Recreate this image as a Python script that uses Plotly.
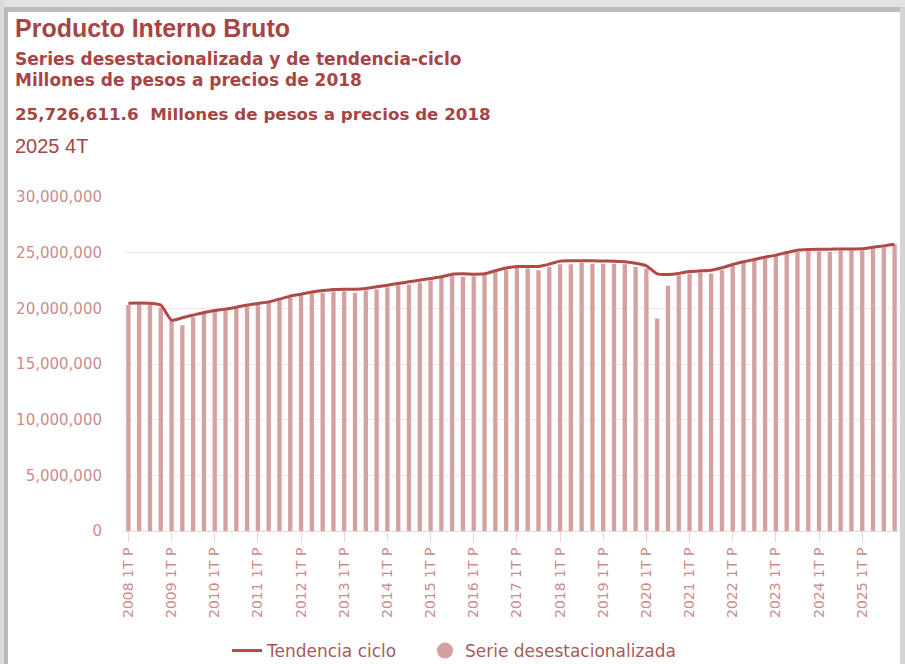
import plotly.graph_objects as go

# ---------------- data ----------------
years = list(range(2008, 2026))
quarters = [f"{y} {q}T P" for y in years for q in range(1, 5)]
tick_labels = [f"{y} 1T P" for y in years]

serie_desestacionalizada = [
    20290000, 20380000, 20350000, 20050000, 18940000, 18490000, 19210000, 19540000,
    19750000, 19930000, 20050000, 20230000, 20380000, 20470000, 20710000, 21000000,
    21180000, 21330000, 21390000, 21540000, 21540000, 21390000, 21600000, 21720000,
    21900000, 22080000, 22140000, 22320000, 22500000, 22740000, 22980000, 22830000,
    22890000, 22980000, 23280000, 23490000, 23640000, 23580000, 23430000, 23730000,
    23970000, 23970000, 24090000, 24000000, 24000000, 24000000, 23970000, 23730000,
    23580000, 19090000, 22020000, 22980000, 23130000, 23220000, 23130000, 23430000,
    23820000, 24090000, 24330000, 24570000, 24710000, 24890000, 25070000, 25130000,
    25130000, 25070000, 25200000, 25200000, 25200000, 25380000, 25490000, 25726611.6,
]

tendencia_ciclo = [
    20460000, 20480000, 20450000, 20300000, 18940000, 19150000, 19390000, 19630000,
    19810000, 19930000, 20100000, 20290000, 20440000, 20580000, 20830000, 21100000,
    21270000, 21460000, 21600000, 21700000, 21720000, 21720000, 21780000, 21930000,
    22080000, 22230000, 22380000, 22530000, 22680000, 22830000, 23070000, 23100000,
    23070000, 23100000, 23370000, 23620000, 23760000, 23760000, 23760000, 23970000,
    24240000, 24270000, 24270000, 24270000, 24250000, 24240000, 24180000, 24050000,
    23820000, 23100000, 23040000, 23130000, 23300000, 23370000, 23430000, 23640000,
    23940000, 24180000, 24390000, 24600000, 24780000, 25010000, 25220000, 25280000,
    25300000, 25310000, 25330000, 25340000, 25350000, 25490000, 25610000, 25760000,
]

y_ticks = [0, 5000000, 10000000, 15000000, 20000000, 25000000, 30000000]
y_tick_text = ["0", "5,000,000", "10,000,000", "15,000,000", "20,000,000", "25,000,000", "30,000,000"]

title = "Producto Interno Bruto"
subtitle1 = "Series desestacionalizada y de tendencia-ciclo"
subtitle2 = "Millones de pesos a precios de 2018"
value_line = "25,726,611.6  Millones de pesos a precios de 2018"
period = "2025 4T"

# ---------------- layout geometry ----------------
W, H = 905, 664
L, R, T, B = 123, 5, 197, 133
PW = W - L - R
PH = H - T - B
PBOT = H - B


def px(x):
    return (x - L) / PW


def py(y):
    return (PBOT - y) / PH


DARK = "#a84444"
BAR = "#d4a0a0"
LINE = "#b04a48"
TICK = "#cc8c8c"
LEG_FONT = dict(family="DejaVu Sans", size=17, color="#a85a5a")

fig = go.Figure()

fig.add_trace(go.Bar(
    x=quarters, y=serie_desestacionalizada,
    marker=dict(color=BAR, line=dict(width=0)),
    name="Serie desestacionalizada", showlegend=False,
))
fig.add_trace(go.Scatter(
    x=quarters, y=tendencia_ciclo, mode="lines",
    line=dict(color=LINE, width=3, shape="spline", smoothing=0.6),
    name="Tendencia ciclo", legend="legend",
))
# legend entry with circle marker for the bars
fig.add_trace(go.Scatter(
    x=[None], y=[None], mode="markers",
    marker=dict(color=BAR, size=16, symbol="circle"),
    name="Serie desestacionalizada", legend="legend2",
))

fig.update_layout(
    width=W, height=H,
    margin=dict(l=L, r=R, t=T, b=B, pad=0, autoexpand=False),
    paper_bgcolor="white", plot_bgcolor="white",
    bargap=0.6,
    showlegend=True,
    legend=dict(
        orientation="h", x=px(227), xanchor="left", y=py(651), yanchor="middle",
        font=LEG_FONT, itemwidth=30, bgcolor="rgba(0,0,0,0)",
    ),
    legend2=dict(
        orientation="h", x=px(425), xanchor="left", y=py(651), yanchor="middle",
        font=LEG_FONT, itemwidth=30, bgcolor="rgba(0,0,0,0)",
    ),
    font=dict(family="DejaVu Sans"),
)

fig.update_xaxes(
    type="category",
    tickmode="array", tickvals=tick_labels, ticktext=tick_labels,
    tickangle=-90,
    ticks="outside", ticklen=10, tickcolor="#f0d6d6", tickwidth=1,
    tickfont=dict(family="DejaVu Sans", size=14, color=TICK),
    showline=True, linecolor="#f0d6d6", linewidth=1,
    showgrid=False, zeroline=False,
    range=[-0.5, len(quarters) - 0.5],
)
fig.update_yaxes(
    range=[0, 30000000],
    tickmode="array", tickvals=y_ticks, ticktext=y_tick_text,
    tickfont=dict(family="DejaVu Sans", size=15, color=TICK),
    showgrid=True, gridcolor="#f6e8e8", gridwidth=1,
    zeroline=False, showline=False,
    ticks="", ticklabelstandoff=20,
)

ann = [
    (title, 27.5, 25, "Liberation Sans"),
    (subtitle1, 58.5, 17, "DejaVu Sans"),
    (subtitle2, 80.5, 17, "DejaVu Sans"),
    (value_line, 113.5, 16.7, "DejaVu Sans"),
    (period, 145.5, 20, None),
]
for text, yc, size, fam in ann:
    bold = fam is not None
    fig.add_annotation(
        xref="paper", yref="paper", x=px(13), y=py(yc),
        xanchor="left", yanchor="middle", showarrow=False,
        text=f"<b>{text}</b>" if bold else text,
        font=dict(family=fam or "Liberation Sans", size=size, color=DARK),
    )

# card frame / shadow
shapes = [
    dict(x0=0, x1=W, y0=0, y1=7, color="#e2e2e2"),
    dict(x0=7, x1=W, y0=7, y1=12, color="#bcbcbc"),
    dict(x0=0, x1=4, y0=0, y1=H, color="#dadada"),
    dict(x0=4, x1=8, y0=7, y1=H, color="#b8b8b8"),
    dict(x0=900, x1=W, y0=7, y1=H, color="#d4d4d4"),
]
for s in shapes:
    fig.add_shape(
        type="rect", xref="paper", yref="paper",
        x0=px(s["x0"]), x1=px(s["x1"]), y0=py(s["y1"]), y1=py(s["y0"]),
        fillcolor=s["color"], line=dict(width=0), layer="above",
    )

fig.write_html(
    "out.html",
    config={"displayModeBar": False},
    post_script="document.body.style.margin='0';document.body.style.padding='0';",
)
